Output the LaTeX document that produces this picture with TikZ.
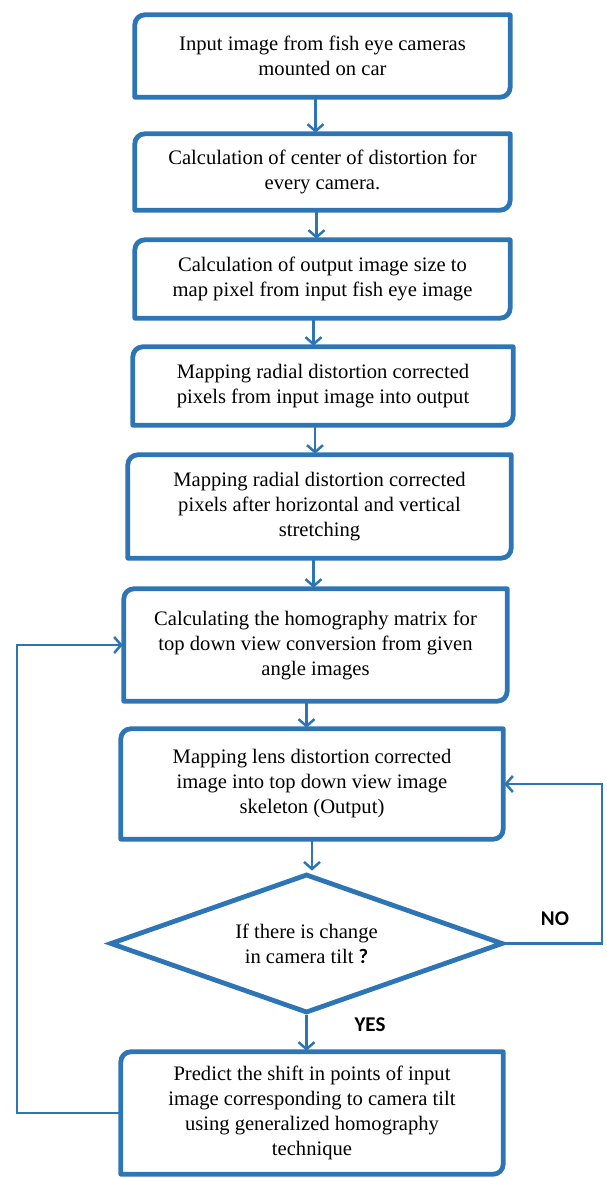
\documentclass[tikz,border=0pt]{standalone}
\usepackage{fontspec}
\setmainfont{Liberation Serif}
\newfontfamily\labelfont{Carlito}
\usetikzlibrary{arrows.meta,shapes.geometric}
\definecolor{flowblue}{RGB}{46,117,182}

\begin{document}
\begin{tikzpicture}[x=1pt, y=1pt,
  box/.style={align=center, inner sep=0pt, font=\fontsize{20.6}{25}\selectfont},
  border/.style={draw=flowblue, line width=4.8pt, line join=round},
  decision/.style={draw=flowblue, line width=4.8pt, diamond, aspect=2.8, inner sep=0pt,
    align=center, font=\fontsize{20.6}{25}\selectfont, minimum width=393pt, minimum height=139pt},
  flow/.style={draw=flowblue, line width=2.5pt, shorten >=1pt,
    -{Straight Barb[length=7pt, width=16pt]}},
  tag/.style={font=\labelfont\bfseries\fontsize{21}{24}\selectfont}
]
\useasboundingbox (0,0) rectangle (607,-1178);

\node[box, minimum width=375pt, minimum height=82pt] (input) at (322.5,-56)
  {Input image from fish eye cameras\\ mounted on car};
\node[box, minimum width=375pt, minimum height=76pt] (centre) at (322.5,-172)
  {Calculation of center of distortion for\\ every camera.};
\node[box, minimum width=375pt, minimum height=78pt] (size) at (322.5,-279)
  {Calculation of output image size to\\ map pixel from input fish eye image};
\node[box, minimum width=380pt, minimum height=78pt] (radial) at (323,-386)
  {Mapping radial distortion corrected\\ pixels from input image into output};
\node[box, minimum width=383pt, minimum height=103pt] (stretch) at (319.5,-506.5)
  {Mapping radial distortion corrected\\ pixels after horizontal and vertical\\ stretching};
\node[box, minimum width=383pt, minimum height=112pt] (homog) at (315.5,-645)
  {Calculating the homography matrix for\\ top down view conversion from given\\ angle images};
\node[box, minimum width=382pt, minimum height=110pt] (lens) at (312,-784)
  {Mapping lens distortion corrected\\ image into top down view image\\ skeleton (Output)};
\node[decision] (tilt) at (306.5,-943.5)
  {If there is change\\ in camera tilt {\labelfont\bfseries ?}};
\node[box, minimum width=382pt, minimum height=122pt] (predict) at (312,-1113)
  {Predict the shift in points of input\\ image corresponding to camera tilt\\ using generalized homography\\ technique};

\node[tag] (no) at (555,-919) {NO};
\node[tag] (yes) at (370,-1025) {YES};

\coordinate (leftrail) at (17,0);
\coordinate (rightrail) at (602,0);

% boxes: top left and bottom right corners rounded
\foreach \n in {input,centre,size,radial,stretch,homog,lens,predict}
  \draw[border] (\n.south west) -- ([yshift=-10pt]\n.north west)
    arc[start angle=180, end angle=90, radius=10pt] -- (\n.north east)
    -- ([yshift=10pt]\n.south east) arc[start angle=0, end angle=-90, radius=10pt] -- cycle;

\draw[flow] ([xshift=-7pt]input.south) -- ([xshift=-7pt]input.south |- centre.north);
\draw[flow] ([xshift=-6pt]centre.south) -- ([xshift=-6pt]centre.south |- size.north);
\draw[flow] ([xshift=-9pt]size.south) -- ([xshift=-9pt]size.south |- radial.north);
\draw[flow] ([xshift=-8pt]radial.south) -- ([xshift=-8pt]radial.south |- stretch.north);
\draw[flow] ([xshift=-6pt]stretch.south) -- ([xshift=-6pt]stretch.south |- homog.north);
\draw[flow] ([xshift=-9pt]homog.south) -- ([xshift=-9pt]homog.south |- lens.north);
\draw[flow] (lens.south) -- (lens.south |- tilt.north);
\draw[flow] (tilt.south) -- (tilt.south |- predict.north);

% feedback
\draw[flow] (tilt.east) -- (tilt.east -| rightrail) |- (lens.east);
\draw[flow] (predict.west) -- (predict.west -| leftrail) |- (homog.west);
\end{tikzpicture}
\end{document}
